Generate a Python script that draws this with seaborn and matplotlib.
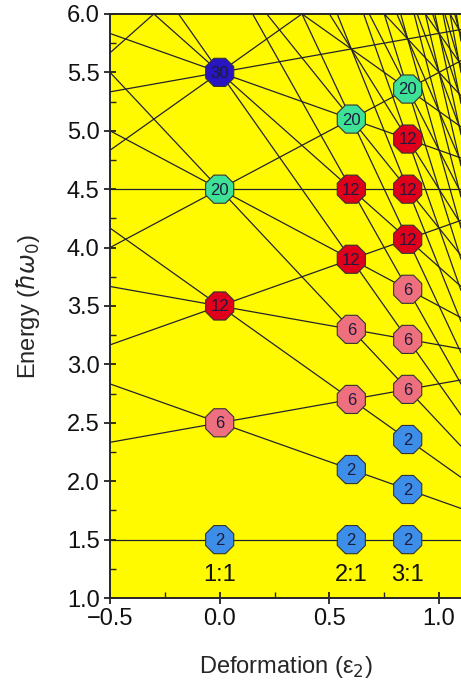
import numpy as np
import pandas as pd
import matplotlib
matplotlib.use('Agg')
import matplotlib.pyplot as plt
from matplotlib.ticker import MultipleLocator
import seaborn as sns

# Oscillator levels: energy (hbar*omega_0) at the left and right edge of the plot
eps_edges = [-0.5, 1.1]
e_left = [1.5, 2.333, 2.833, 3.167, 3.667, 4.167, 4.0, 4.5, 5.0, 5.5,
          4.833, 5.333, 5.833, 6.333, 6.833, 5.667, 7.167, 7.667, 8.167,
          8.5, 9.0, 9.5, 9.833, 10.333, 10.833, 11.167, 11.667, 12.167,
          13.0, 13.5, 14.333, 14.833, 15.667, 16.167, 17.0, 17.5, 18.833,
          20.167, 21.5, 22.833]
e_right = [1.5, 2.867, 1.767, 4.233, 3.133, 2.033, 5.6, 4.5, 3.4, 2.3,
           6.967, 5.867, 4.767, 3.667, 2.567, 8.333, 5.033, 3.933, 2.833,
           5.3, 4.2, 3.1, 5.567, 4.467, 3.367, 5.833, 4.733, 3.633,
           5.0, 3.9, 5.267, 4.167, 5.533, 4.433, 5.8, 4.7, 4.967,
           5.233, 5.5, 5.767]

# Shell closures at axis ratios 1:1, 2:1, 3:1
ratio_labels = ['1:1', '2:1', '3:1']
ratio_eps = [0.0, 0.6, 0.857]
closure_eps = [0.0] * 5 + [0.6] * 7 + [0.857] * 10
closure_energy = [1.5, 2.5, 3.5, 4.5, 5.5,
                  1.5, 2.1, 2.7, 3.3, 3.9, 4.5, 5.1,
                  1.5, 1.929, 2.357, 2.786, 3.214, 3.643, 4.071, 4.5, 4.929, 5.357]
closure_magic = [2, 6, 12, 20, 30,
                 2, 2, 6, 6, 12, 12, 20,
                 2, 2, 2, 6, 6, 6, 12, 12, 12, 20]

magic_colors = {2: '#3c8ee8', 6: '#ee6f7d', 12: '#e0001b', 20: '#3de296', 30: '#2a16c0'}

sns.set_style('ticks')
plt.rcParams['font.family'] = ['Liberation Sans', 'DejaVu Sans']
plt.rcParams['mathtext.fontset'] = 'dejavusans'

lines = pd.DataFrame({
    'line': np.repeat(np.arange(len(e_left)), 2),
    'eps': eps_edges * len(e_left),
    'energy': np.column_stack([e_left, e_right]).ravel(),
})
dots = pd.DataFrame({'eps': closure_eps, 'energy': closure_energy, 'magic': closure_magic})

fig = plt.figure(figsize=(4.61, 6.97), dpi=100)
ax = fig.add_axes([0.2386, 0.142, 0.7614, 0.838])
ax.set_facecolor('#fffa00')

sns.lineplot(data=lines, x='eps', y='energy', units='line', estimator=None,
             color='#23232e', lw=0.9, sort=False, ax=ax)
sns.scatterplot(data=dots, x='eps', y='energy', hue='magic', palette=magic_colors,
                marker='8', s=480, edgecolor='#333333', linewidth=0.8,
                legend=False, zorder=3, ax=ax)
for x, y, m in zip(closure_eps, closure_energy, closure_magic):
    ax.text(x, y - 0.008, str(m), ha='center', va='center', fontsize=12,
            color='#1c1c3c', zorder=4)
for x, lab in zip(ratio_eps, ratio_labels):
    ax.text(x, 1.2, lab, ha='center', va='center', fontsize=17, color='#111111')

ax.set_xlim(-0.5, 1.1)
ax.set_ylim(1.0, 6.0)
ax.set_xticks([-0.5, 0.0, 0.5, 1.0])
ax.set_yticks(np.arange(1.0, 6.01, 0.5))
ax.xaxis.set_minor_locator(MultipleLocator(0.25))
ax.yaxis.set_minor_locator(MultipleLocator(0.25))
ax.tick_params(which='major', direction='inout', length=9, width=1.2,
               labelsize=17, pad=3, colors='#111111')
ax.tick_params(which='minor', direction='in', length=4, width=1.0)
for s in ['left', 'bottom', 'top']:
    ax.spines[s].set_linewidth(1.4)
ax.spines['right'].set_visible(False)

ax.set_xlabel('Deformation (ε$_2$)', fontsize=17)
ax.set_ylabel(r'Energy ($\hbar\omega_0$)', fontsize=17)
ax.xaxis.set_label_coords(0.5, -0.095)
ax.yaxis.set_label_coords(-0.195, 0.5)

fig.savefig('out.png', dpi=100)
